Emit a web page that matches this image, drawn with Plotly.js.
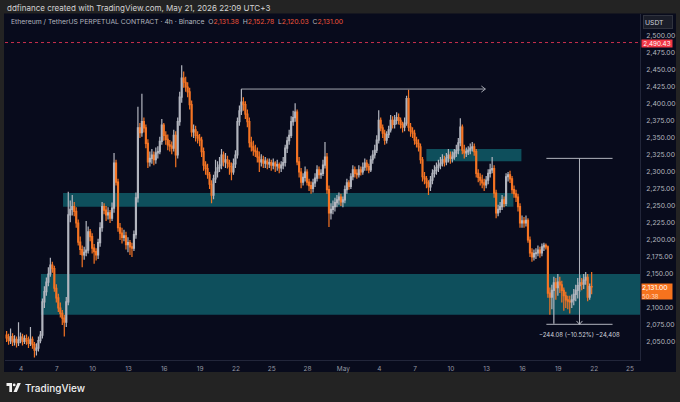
<!DOCTYPE html>
<html><head><meta charset="utf-8">
<script src="https://cdn.plot.ly/plotly-3.0.1.min.js"></script>
<style>html,body{margin:0;padding:0;background:#232323;overflow:hidden}#c{width:680px;height:402px}</style>
</head><body><div id="c"></div><script>
// ETHUSDT.P 4h candles, Apr 2 19:00 -> May 21 19:00 (UTC+3)
const firstCandle = Date.UTC(2026, 3, 2, 19);
const open = [
2060,2056,2052,2058,2050,2054,2049,2053,2057,2051,
2055,2052,2048,2054,2046,2038,2041,2052,2060,2109,
2124,2138,2150,2163,2158,2129,2115,2100,2092,2085,
2079,2109,2237,2245,2249,2242,2225,2197,2186,2178,
2182,2185,2212,2205,2188,2183,2178,2196,2218,2249,
2244,2237,2240,2232,2247,2313,2285,2218,2210,2204,
2206,2193,2196,2190,2188,2208,2262,2365,2358,2374,
2365,2342,2315,2320,2325,2318,2328,2330,2345,2369,
2354,2348,2340,2338,2335,2354,2325,2374,2410,2438,
2432,2425,2418,2399,2359,2362,2354,2350,2347,2330,
2310,2305,2296,2282,2266,2290,2300,2306,2310,2325,
2315,2318,2313,2308,2300,2312,2325,2374,2390,2403,
2399,2385,2374,2343,2337,2332,2330,2322,2315,2318,
2313,2316,2312,2314,2310,2313,2309,2311,2306,2310,
2314,2335,2346,2354,2374,2380,2388,2315,2300,2285,
2292,2300,2285,2280,2276,2284,2291,2303,2296,2298,
2310,2322,2274,2240,2245,2249,2255,2259,2263,2256,
2259,2274,2284,2279,2293,2303,2298,2296,2303,2300,
2307,2313,2308,2303,2318,2325,2332,2347,2376,2365,
2357,2347,2355,2362,2376,2370,2376,2380,2376,2370,
2366,2372,2408,2366,2360,2357,2347,2342,2337,2318,
2293,2290,2284,2278,2288,2298,2302,2307,2310,2313,
2318,2315,2321,2325,2320,2322,2328,2332,2343,2366,
2332,2328,2330,2332,2335,2337,2330,2298,2292,2288,
2284,2281,2288,2298,2303,2305,2269,2240,2245,2249,
2259,2254,2293,2296,2290,2274,2268,2263,2249,2225,
2228,2225,2229,2200,2181,2175,2180,2181,2185,2181,
2190,2192,2190,2122,2116,2126,2137,2130,2138,2134,
2126,2118,2112,2110,2109,2112,2120,2126,2133,2137,
2135,2141,2145,2116,2131.38];
const high = [
2066,2062,2070,2063,2060,2058,2079,2064,2062,2060,
2061,2058,2072,2058,2050,2048,2058,2066,2114,2132,
2145,2160,2174,2168,2162,2135,2121,2108,2097,2090,
2116,2271,2258,2266,2256,2248,2230,2205,2192,2190,
2228,2220,2216,2210,2194,2188,2202,2226,2256,2254,
2250,2248,2244,2255,2328,2318,2290,2225,2218,2215,
2212,2204,2200,2196,2214,2270,2396,2372,2415,2380,
2370,2348,2330,2334,2330,2336,2338,2352,2378,2372,
2360,2355,2347,2345,2362,2360,2380,2418,2457,2448,
2440,2432,2424,2405,2370,2368,2360,2356,2352,2336,
2316,2312,2300,2288,2296,2318,2316,2322,2334,2330,
2328,2324,2318,2314,2320,2332,2380,2398,2422,2410,
2404,2392,2380,2352,2346,2340,2336,2330,2326,2324,
2322,2320,2320,2318,2320,2316,2318,2314,2316,2322,
2340,2352,2362,2382,2390,2401,2392,2322,2306,2298,
2308,2304,2290,2286,2290,2298,2310,2308,2304,2318,
2344,2328,2280,2254,2258,2262,2266,2270,2268,2264,
2280,2290,2288,2298,2310,2308,2304,2310,2308,2314,
2320,2318,2312,2324,2332,2340,2354,2391,2380,2370,
2362,2360,2368,2384,2382,2384,2388,2386,2380,2374,
2380,2412,2421,2372,2366,2362,2352,2348,2342,2322,
2300,2294,2288,2294,2304,2310,2314,2318,2322,2326,
2324,2328,2334,2330,2330,2334,2340,2350,2379,2370,
2340,2336,2338,2342,2344,2342,2334,2304,2298,2296,
2290,2294,2304,2312,2322,2310,2274,2252,2256,2266,
2264,2298,2300,2302,2294,2280,2274,2268,2254,2236,
2234,2236,2232,2205,2188,2186,2188,2192,2190,2195,
2196,2195,2192,2130,2134,2146,2144,2150,2146,2140,
2130,2124,2118,2118,2120,2128,2134,2144,2148,2144,
2150,2153,2150,2136,2152.78];
const low = [
2050,2046,2047,2044,2045,2042,2044,2048,2045,2047,
2046,2041,2044,2040,2027,2030,2036,2048,2055,2100,
2118,2132,2146,2152,2124,2108,2094,2086,2075,2058,
2072,2104,2226,2236,2235,2218,2192,2178,2160,2171,
2176,2180,2198,2180,2165,2170,2172,2190,2212,2238,
2228,2230,2225,2228,2240,2280,2212,2200,2195,2198,
2186,2182,2178,2175,2184,2202,2255,2350,2352,2358,
2335,2306,2308,2312,2310,2312,2320,2326,2340,2346,
2340,2332,2330,2326,2330,2307,2320,2368,2402,2424,
2418,2410,2392,2352,2350,2345,2342,2338,2322,2302,
2296,2290,2275,2254,2260,2284,2292,2300,2304,2308,
2306,2305,2296,2288,2296,2306,2320,2368,2384,2390,
2378,2366,2336,2330,2324,2322,2314,2300,2308,2306,
2306,2304,2306,2302,2304,2300,2302,2298,2300,2304,
2308,2328,2340,2350,2368,2374,2310,2292,2276,2280,
2286,2280,2272,2268,2270,2278,2286,2290,2290,2294,
2305,2268,2219,2230,2238,2242,2248,2252,2250,2248,
2254,2268,2274,2275,2288,2292,2290,2292,2295,2296,
2302,2302,2298,2300,2312,2320,2328,2342,2360,2350,
2340,2342,2350,2358,2364,2364,2370,2370,2364,2358,
2360,2368,2360,2352,2350,2340,2336,2330,2312,2286,
2282,2276,2266,2272,2282,2292,2296,2300,2304,2308,
2308,2310,2314,2312,2314,2318,2322,2326,2338,2326,
2320,2322,2325,2326,2330,2324,2292,2285,2280,2276,
2272,2276,2282,2292,2298,2262,2232,2235,2240,2244,
2248,2250,2286,2284,2268,2262,2256,2242,2218,2218,
2218,2220,2196,2175,2168,2170,2172,2176,2174,2176,
2184,2186,2115,2090,2098,2077,2112,2118,2122,2108,
2096,2100,2098,2092,2100,2104,2110,2114,2124,2126,
2128,2134,2110,2112,2120.03];
const close = [
2056,2052,2058,2050,2054,2049,2053,2057,2051,2055,
2052,2048,2054,2046,2038,2041,2052,2060,2109,2124,
2138,2150,2163,2158,2129,2115,2100,2092,2085,2079,
2109,2237,2245,2249,2242,2225,2197,2186,2178,2182,
2185,2212,2205,2188,2183,2178,2196,2218,2249,2244,
2237,2240,2232,2247,2313,2285,2218,2210,2204,2206,
2193,2196,2190,2188,2208,2262,2365,2358,2374,2365,
2342,2315,2320,2325,2318,2328,2330,2345,2369,2354,
2348,2340,2338,2335,2354,2325,2374,2410,2438,2432,
2425,2418,2399,2359,2362,2354,2350,2347,2330,2310,
2305,2296,2282,2266,2290,2300,2306,2310,2325,2315,
2318,2313,2308,2300,2312,2325,2374,2390,2403,2399,
2385,2374,2343,2337,2332,2330,2322,2315,2318,2313,
2316,2312,2314,2310,2313,2309,2311,2306,2310,2314,
2335,2346,2354,2374,2380,2388,2315,2300,2285,2292,
2300,2285,2280,2276,2284,2291,2303,2296,2298,2310,
2322,2274,2240,2245,2249,2255,2259,2263,2256,2259,
2274,2284,2279,2293,2303,2298,2296,2303,2300,2307,
2313,2308,2303,2318,2325,2332,2347,2376,2365,2357,
2347,2355,2362,2376,2370,2376,2380,2376,2370,2366,
2372,2408,2366,2360,2357,2347,2342,2337,2318,2293,
2290,2284,2278,2288,2298,2302,2307,2310,2313,2318,
2315,2321,2325,2320,2322,2328,2332,2343,2366,2332,
2328,2330,2332,2335,2337,2330,2298,2292,2288,2284,
2281,2288,2298,2303,2305,2269,2240,2245,2249,2259,
2254,2293,2296,2290,2274,2268,2263,2249,2225,2228,
2225,2229,2200,2181,2175,2180,2181,2185,2181,2190,
2192,2190,2122,2116,2126,2137,2130,2138,2134,2126,
2118,2112,2110,2109,2112,2120,2126,2133,2137,2135,
2141,2145,2116,2131.38,2131];

const tickDates = ['2026-04-04','2026-04-07','2026-04-10','2026-04-13','2026-04-16','2026-04-19','2026-04-22','2026-04-25','2026-04-28','2026-05-01','2026-05-04','2026-05-07','2026-05-10','2026-05-13','2026-05-16','2026-05-19','2026-05-22','2026-05-25'];
const tickText = ['4','7','10','13','16','19','22','25','28','May','4','7','10','13','16','19','22','25'];
// 2,125.00 is hidden behind the last-price label in the reference
const priceTicks = [2050,2075,2100,2150,2175,2200,2225,2250,2275,2300,2325,2350,2375,2400,2425,2450,2475,2500];

// zones [start, end, bottom, top]
const zoneLow = ['2026-04-05 16:00','2026-05-28 00:00',2090,2150];
const zoneMid = ['2026-04-07 12:30','2026-05-15 05:45',2249,2269];
const zoneHigh = ['2026-05-07 22:50','2026-05-15 21:50',2316,2334];
const resistance = ['2026-04-22 10:30','2026-05-12 21:20',2422];
const measure = {start:'2026-05-18 00:00', end:'2026-05-23 13:00', mid:'2026-05-20 18:30', top:2320.08, bottom:2076.00};
const alertPrice = 2490.43;
const lastPrice = 2131.00;

const times = open.map((_, i) => new Date(firstCandle + i*4*3600e3).toISOString().slice(0,16).replace('T',' '));

const L = 5, R = 40, T = 14, B = 42, W = 680, H = 402;
const pw = W - L - R, ph = H - T - B;
const px = x => (x - L) / pw;
const py = y => (H - B - y) / ph;
const FONT = 'Inter, Roboto, sans-serif';
const GREY = '#b2b5be';

const shapes = [
  {type:'rect', xref:'paper', yref:'paper', x0:px(4), x1:px(676), y0:py(372), y1:py(13.5), fillcolor:'#080b1c', line:{width:0}, layer:'below'},
  {type:'rect', xref:'x', yref:'y', x0:zoneLow[0], x1:zoneLow[1], y0:zoneLow[2], y1:zoneLow[3], fillcolor:'#0e4f5c', line:{width:0}, layer:'below'},
  {type:'rect', xref:'x', yref:'y', x0:zoneMid[0], x1:zoneMid[1], y0:zoneMid[2], y1:zoneMid[3], fillcolor:'#0e4f5c', line:{width:0}, layer:'below'},
  {type:'rect', xref:'x', yref:'y', x0:zoneHigh[0], x1:zoneHigh[1], y0:zoneHigh[2], y1:zoneHigh[3], fillcolor:'#0e4f5c', line:{width:0}, layer:'below'},
  {type:'line', xref:'paper', yref:'y', x0:0, x1:1, y0:alertPrice, y1:alertPrice, line:{color:'#c9304e', width:1, dash:'3px,3px'}},
  {type:'line', xref:'x', yref:'y', x0:resistance[0], x1:resistance[1], y0:resistance[2], y1:resistance[2], line:{color:'#a3a6af', width:1}},
  {type:'line', xref:'x', yref:'y', x0:'2026-05-12 13:20', x1:resistance[1], y0:resistance[2]+4.5, y1:resistance[2], line:{color:'#a3a6af', width:1}},
  {type:'line', xref:'x', yref:'y', x0:'2026-05-12 13:20', x1:resistance[1], y0:resistance[2]-4.5, y1:resistance[2], line:{color:'#a3a6af', width:1}},
  {type:'line', xref:'x', yref:'y', x0:measure.start, x1:measure.end, y0:measure.top, y1:measure.top, line:{color:'#b2b5be', width:1}},
  {type:'line', xref:'x', yref:'y', x0:measure.start, x1:measure.end, y0:measure.bottom, y1:measure.bottom, line:{color:'#b2b5be', width:1}},
  {type:'line', xref:'x', yref:'y', x0:measure.mid, x1:measure.mid, y0:measure.top, y1:measure.bottom, line:{color:'#b2b5be', width:1}},
  {type:'line', xref:'x', yref:'y', x0:'2026-05-20 12:30', x1:measure.mid, y0:measure.bottom+5, y1:measure.bottom, line:{color:'#b2b5be', width:1}},
  {type:'line', xref:'x', yref:'y', x0:'2026-05-21 00:30', x1:measure.mid, y0:measure.bottom+5, y1:measure.bottom, line:{color:'#b2b5be', width:1}},
  // TradingView logo mark
  {type:'rect', xref:'paper', yref:'paper', x0:px(6.5), x1:px(12), y0:py(386), y1:py(383), fillcolor:'#f0f0f0', line:{width:0}},
  {type:'rect', xref:'paper', yref:'paper', x0:px(9.3), x1:px(12), y0:py(392), y1:py(383), fillcolor:'#f0f0f0', line:{width:0}},
  {type:'circle', xref:'paper', yref:'paper', x0:px(12.8), x1:px(15.6), y0:py(386.3), y1:py(383.5), fillcolor:'#f0f0f0', line:{width:0}},
  {type:'path', xref:'paper', yref:'paper', path:`M ${px(17.5)} ${py(383)} L ${px(20.8)} ${py(383)} L ${px(16.8)} ${py(392)} L ${px(13.5)} ${py(392)} Z`, fillcolor:'#f0f0f0', line:{width:0}}
];

const V = s => `<span style="color:#f0553a">${s}</span>`;
const annotations = [
  {xref:'paper', yref:'paper', x:px(5), y:py(7.5), xanchor:'left', yanchor:'middle', showarrow:false,
   text:'ddfinance created with TradingView.com, May 21, 2026 22:09 UTC+3', font:{family:FONT, size:8, color:'#d4d4d4'}},
  {xref:'paper', yref:'paper', x:px(8.5), y:py(21.5), xanchor:'left', yanchor:'middle', showarrow:false,
   text:'Ethereum / TetherUS PERPETUAL CONTRACT · 4h · Binance\u00a0\u00a0O'+V('2,131.38')+'\u00a0\u00a0H'+V('2,152.78')+'\u00a0\u00a0L'+V('2,120.03')+'\u00a0\u00a0C'+V('2,131.00'),
   font:{family:FONT, size:6.8, color:GREY}},
  {xref:'paper', yref:'paper', x:px(657.5), y:py(21.5), xanchor:'center', yanchor:'middle', showarrow:false,
   text:'USDT', width:26, height:10, bgcolor:'#1a1d29', bordercolor:'#30333e', borderwidth:1, borderpad:1, align:'left',
   font:{family:FONT, size:6.8, color:'#d1d4dc'}},
  {xref:'paper', yref:'y', x:px(657), y:alertPrice, yshift:-0.5, xanchor:'center', yanchor:'middle', showarrow:false,
   text:'2,490.43', width:30, height:7, bgcolor:'#f23645', borderpad:0,
   font:{family:FONT, size:6.3, color:'#ffffff'}},
  {xref:'paper', yref:'y', x:px(657), y:lastPrice, xanchor:'center', yanchor:'top', yshift:4, showarrow:false,
   text:'2,131.00<br><span style="font-size:6px;color:#ffd9c0">50:38</span>', width:30, height:15, bgcolor:'#f7731e', borderpad:0, align:'left',
   font:{family:FONT, size:6.8, color:'#ffffff'}},
  {xref:'x', yref:'y', x:measure.mid, y:measure.bottom, yshift:-10, xanchor:'center', yanchor:'middle', showarrow:false,
   text:'\u2212244.08 (\u221210.52%) \u221224,408', font:{family:FONT, size:6, color:'#d1d4dc'}},
  {xref:'paper', yref:'paper', x:px(23), y:py(388), xanchor:'left', yanchor:'middle', showarrow:false,
   text:'TradingView', font:{family:FONT, size:10, color:'#f0f0f0', weight:500}}
];

const trace = {
  type:'candlestick', x:times, open:open, high:high, low:low, close:close,
  increasing:{line:{color:'#b2b5be', width:1.2}, fillcolor:'#b2b5be'},
  decreasing:{line:{color:'#f57423', width:1.2}, fillcolor:'#f57423'},
  whiskerwidth:0, hoverinfo:'skip', showlegend:false
};

const layout = {
  width:W, height:H, margin:{l:L, r:R, t:T, b:B},
  paper_bgcolor:'#232323', plot_bgcolor:'#080b1c',
  showlegend:false, dragmode:false,
  font:{family:FONT},
  xaxis:{type:'date', range:['2026-04-02 15:50','2026-05-25 20:10'], rangeslider:{visible:false},
    tickmode:'array', tickvals:tickDates, ticktext:tickText, ticks:'', ticklabelstandoff:2,
    tickfont:{family:FONT, size:6.5, color:'#9598a1'}, showgrid:false, zeroline:false,
    showline:true, linecolor:'#22263a', linewidth:1, fixedrange:true},
  yaxis:{side:'right', range:[2023.5, 2532.4], tickmode:'array', tickvals:priceTicks,
    tickformat:',.2f', ticks:'', ticklabelstandoff:4,
    tickfont:{family:FONT, size:6.8, color:GREY}, showgrid:false, zeroline:false,
    showline:true, linecolor:'#22263a', linewidth:1, fixedrange:true},
  shapes:shapes, annotations:annotations
};

Plotly.newPlot('c', [trace], layout, {staticPlot:true, displayModeBar:false});
</script></body></html>
